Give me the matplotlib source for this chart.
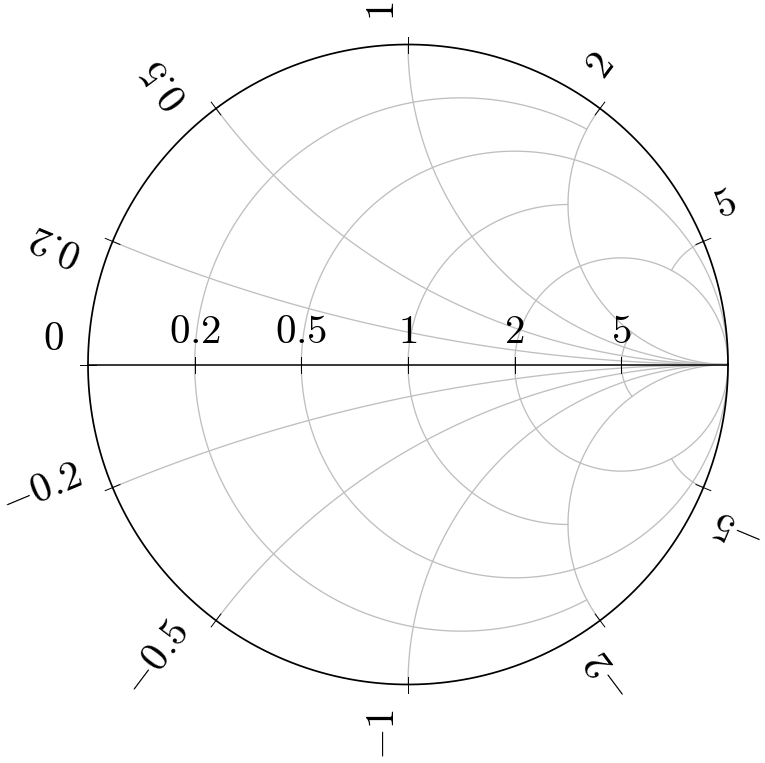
import numpy as np
import matplotlib
matplotlib.use('Agg')
import matplotlib.pyplot as plt

plt.rcParams['mathtext.fontset'] = 'cm'

# grid of the smith chart
resistance = [0.2, 0.5, 1, 2, 5]
resistance_stop = [2, None, 2, None, 2]      # |x| where an r circle ends (None = full)
reactance = [0.2, 0.5, 1, 2, 5]
reactance_stop = [None, None, None, None, 2]  # r where an x arc ends (None = full)

r_labels = ['0.2', '0.5', '1', '2', '5']
outer_ticks = [0, 0.2, 0.5, 1, 2, 5, -0.2, -0.5, -1, -2, -5]
outer_labels = ['0', '0.2', '0.5', '1', '2', '5', '-0.2', '-0.5', '-1', '-2', '-5']

grey = '#bfbfbf'
fs = 29.5

fig = plt.figure(figsize=(7.65, 7.63), dpi=100)
ax = fig.add_axes([0, 0, 1, 1])
R = 320.0
cx, cy = 408.0, 364.5
ax.set_xlim(-cx / R, (765 - cx) / R)
ax.set_ylim(-(763 - cy) / R, cy / R)
ax.axis('off')


def gamma(z):
    return (z - 1) / (z + 1)


# resistance circles
for r, stop in zip(resistance, resistance_stop):
    lim = np.arctan(stop) if stop is not None else np.pi / 2
    phi = np.linspace(-lim, lim, 600)
    g = ((r - 1) * np.cos(phi) + 1j * np.sin(phi)) / ((r + 1) * np.cos(phi) + 1j * np.sin(phi))
    ax.plot(g.real, g.imag, color=grey, lw=0.95, zorder=1)

# reactance arcs
for x, stop in zip(reactance, reactance_stop):
    lim = np.arctan(stop) if stop is not None else np.pi / 2
    phi = np.linspace(0, lim, 600)
    for s in (1, -1):
        xx = s * x
        g = (np.sin(phi) - np.cos(phi) + 1j * xx * np.cos(phi)) / (np.sin(phi) + np.cos(phi) + 1j * xx * np.cos(phi))
        ax.plot(g.real, g.imag, color=grey, lw=0.95, zorder=1)

# outer circle and real axis
t = np.linspace(0, 2 * np.pi, 800)
ax.plot(np.cos(t), np.sin(t), color='black', lw=1.25, zorder=3)
ax.plot([-1, 1], [0, 0], color='black', lw=1.1, zorder=3)

tl = 8 / R
# ticks and labels on the real axis
for r, lab in zip(resistance, r_labels):
    g = gamma(r)
    ax.plot([g, g], [-tl, tl], color='black', lw=0.7, zorder=4)
    ax.text(g, 22 / R, '$' + lab + '$', ha='center', va='baseline', fontsize=fs)

# ticks and labels round the outer circle
for x, lab in zip(outer_ticks, outer_labels):
    g = gamma(1j * x)
    th = np.angle(g)
    c, s = np.cos(th), np.sin(th)
    ax.plot([(1 - tl) * c, (1 + tl) * c], [(1 - tl) * s, (1 + tl) * s], color='black', lw=0.7, zorder=4)
    deg = np.degrees(th)
    if 0 < deg < 180:
        rot, ha = deg, 'left'
        px, py = -s, c
    else:
        rot, ha = deg + 180, 'right'
        px, py = s, -c
    rad = 1 + 24 / R
    off = 14 / R
    ax.text(rad * c + off * px, rad * s + off * py, '$' + lab + '$', rotation=rot % 360,
            rotation_mode='anchor', ha=ha, va='baseline', fontsize=fs)

plt.savefig('out.png', dpi=100)
